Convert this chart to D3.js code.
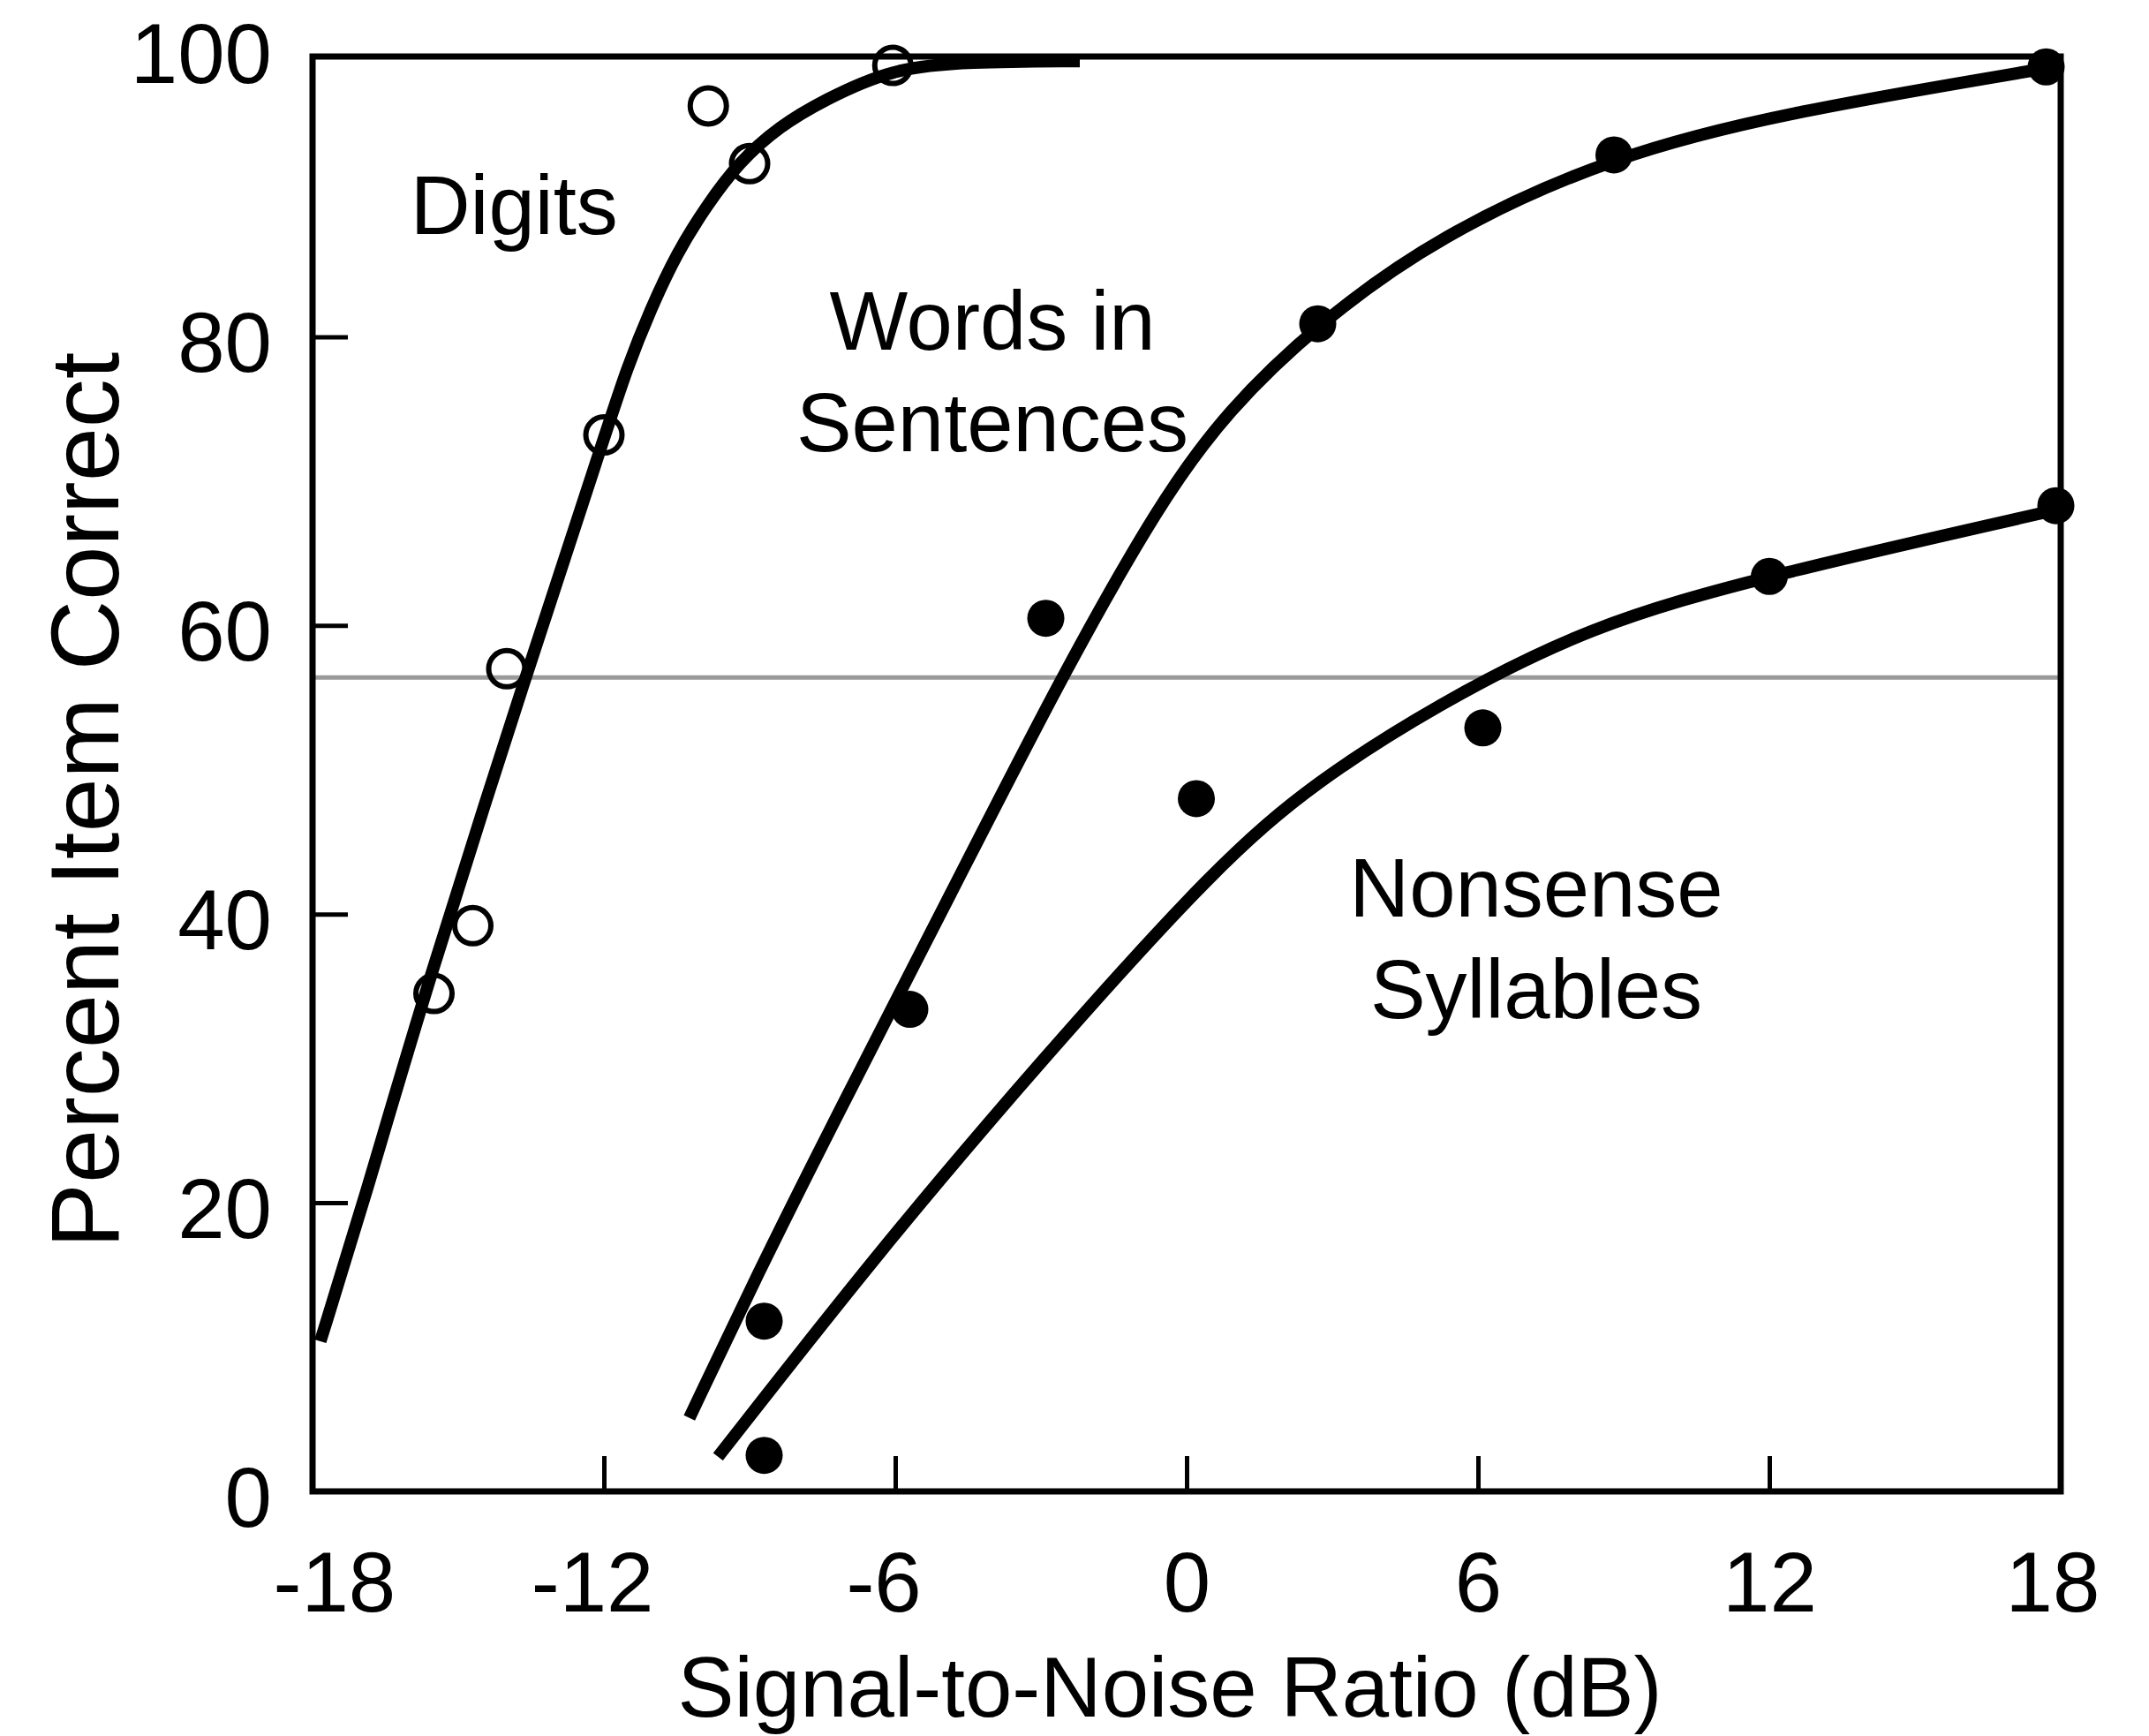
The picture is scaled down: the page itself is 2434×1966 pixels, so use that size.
<!DOCTYPE html>
<html>
<head>
<meta charset="utf-8">
<script src="https://cdn.jsdelivr.net/npm/d3@7"></script>
<style>
  body { margin: 0; background: #fff; }
  text { font-family: "Liberation Sans", Arial, Helvetica, sans-serif; fill: #000; }
</style>
</head>
<body>
<div id="chart"></div>
<script>
// tick values
const xTicks = [-18, -12, -6, 0, 6, 12, 18];
const yTicks = [0, 20, 40, 60, 80, 100];

// fitted curves as [dB, percent]
const digitsCurve = [
  [-17.84, 10.4], [-16.95, 20], [-15.7, 34.5], [-13.61, 56.5], [-11.98, 73.15],
  [-11.53, 77.8], [-11.04, 81.9], [-10.5, 85.8], [-9.89, 89.06], [-9.22, 92.1],
  [-8.38, 94.6], [-7.47, 96.4], [-6.07, 98.6], [-4.5, 99.05], [-2.2, 99.1]
];
const wordsCurve = [
  [-10.24, 5.1], [-8.86, 14.9], [-7.3, 25.4], [-4.63, 42.9], [-2.57, 56.5],
  [-0.54, 68.6], [0.84, 74.9], [2.7, 80.9], [5.17, 87.0], [8.8, 92.6],
  [12.42, 95.6], [17.7, 98.6]
];
const nonsenseCurve = [
  [-9.65, 2.4], [-6.25, 17.0], [-3.01, 29.8], [0.65, 43.5], [2.67, 49.2],
  [5.1, 54.4], [8.29, 60.0], [12.0, 63.5], [17.9, 68.0]
];

// measured points
const digitsPoints = [
  [-15.5, 34.5], [-14.7, 39.2], [-14.0, 57.0], [-12.0, 73.2],
  [-9.85, 96.0], [-9.0, 92.0], [-6.05, 98.8]
];
const wordsPoints = [
  [-8.7, 11.8], [-5.7, 33.4], [-2.9, 60.5], [2.7, 80.9], [8.8, 92.6], [17.7, 98.7]
];
const nonsensePoints = [
  [-8.7, 2.5], [0.2, 48.0], [6.1, 52.9], [12.0, 63.4], [17.9, 68.3]
];

const referenceLevel = 56.4;

// curve names, anchored at [dB, percent] of the first line's baseline
const curveLabels = [
  { lines: ["Digits"], at: [-13.85, 87.1] },
  { lines: ["Words in", "Sentences"], at: [-4.0, 79.1] },
  { lines: ["Nonsense", "Syllables"], at: [7.2, 39.8] }
];

const width = 2434;
const height = 1966;
const margin = { top: 64, right: 100, bottom: 277, left: 354 };

const svg = d3.select("#chart").append("svg")
  .attr("width", width)
  .attr("height", height);

const x = d3.scaleLinear()
  .domain([-18, 18])
  .range([margin.left, width - margin.right]);

// the frame in the original sits a little under the 100 mark
const y = d3.scaleLinear()
  .domain([0, 100])
  .range([height - margin.bottom, margin.top - 9.5]);

// x axis, ticks inward
const xAxis = svg.append("g")
  .attr("transform", `translate(0,${height - margin.bottom})`)
  .call(d3.axisBottom(x)
    .tickValues(xTicks)
    .tickSize(-40)
    .tickPadding(68)
    .tickFormat(d => String(d)));
xAxis.select(".domain").remove();
xAxis.selectAll(".tick line").attr("stroke-width", 5);
xAxis.selectAll(".tick text")
  .style("font-size", "96px")
  .attr("dx", d => d < 0 ? "-0.14em" : (d === 18 ? "-0.1em" : null));
xAxis.selectAll(".tick text").filter(d => d === -18)
  .attr("text-anchor", "start")
  .attr("x", -45)
  .attr("dx", null);

// y axis, ticks inward
const yAxis = svg.append("g")
  .attr("transform", `translate(${margin.left},0)`)
  .call(d3.axisLeft(y)
    .tickValues(yTicks)
    .tickSize(-40)
    .tickPadding(46)
    .tickFormat(d => String(d)));
yAxis.select(".domain").remove();
yAxis.selectAll(".tick line").attr("stroke-width", 5);
yAxis.selectAll(".tick line").filter(d => d === 0 || d === 100).remove();
yAxis.selectAll(".tick text")
  .style("font-size", "96px")
  .attr("dy", "0.41em");

// gray reference line
svg.append("line")
  .attr("x1", x(-18))
  .attr("x2", x(18))
  .attr("y1", y(referenceLevel))
  .attr("y2", y(referenceLevel))
  .attr("stroke", "#9a9a9a")
  .attr("stroke-width", 5);

// frame
svg.append("rect")
  .attr("x", margin.left)
  .attr("y", margin.top)
  .attr("width", width - margin.left - margin.right)
  .attr("height", height - margin.top - margin.bottom)
  .attr("fill", "none")
  .attr("stroke", "#000")
  .attr("stroke-width", 7);

// B-spline keeps the fitted curves smooth
const line = d3.line()
  .x(d => x(d[0]))
  .y(d => y(d[1]))
  .curve(d3.curveBasis);

svg.append("g")
  .selectAll("path")
  .data([digitsCurve, wordsCurve, nonsenseCurve])
  .join("path")
  .attr("fill", "none")
  .attr("stroke", "#000")
  .attr("stroke-width", 14)
  .attr("d", line);

// open circles for digits
svg.append("g")
  .selectAll("circle")
  .data(digitsPoints)
  .join("circle")
  .attr("cx", d => x(d[0]))
  .attr("cy", d => y(d[1]))
  .attr("r", 20.5)
  .attr("fill", "none")
  .attr("stroke", "#000")
  .attr("stroke-width", 6);

// filled dots for words and nonsense syllables
svg.append("g")
  .selectAll("circle")
  .data(wordsPoints.concat(nonsensePoints))
  .join("circle")
  .attr("cx", d => x(d[0]))
  .attr("cy", d => y(d[1]))
  .attr("r", 21)
  .attr("fill", "#000");

// curve names
curveLabels.forEach(lbl => {
  const t = svg.append("text")
    .attr("x", x(lbl.at[0]))
    .attr("y", y(lbl.at[1]))
    .attr("text-anchor", "middle")
    .style("font-size", "94px");
  lbl.lines.forEach((s, i) => {
    t.append("tspan")
      .attr("x", x(lbl.at[0]))
      .attr("dy", i === 0 ? 0 : "1.22em")
      .text(s);
  });
});

// axis titles
svg.append("text")
  .attr("x", 1325)
  .attr("y", 1944)
  .attr("text-anchor", "middle")
  .style("font-size", "96px")
  .text("Signal-to-Noise Ratio (dB)");

svg.append("text")
  .attr("transform", "translate(134,906) rotate(-90)")
  .attr("text-anchor", "middle")
  .style("font-size", "110px")
  .text("Percent Item Correct");
</script>
</body>
</html>
